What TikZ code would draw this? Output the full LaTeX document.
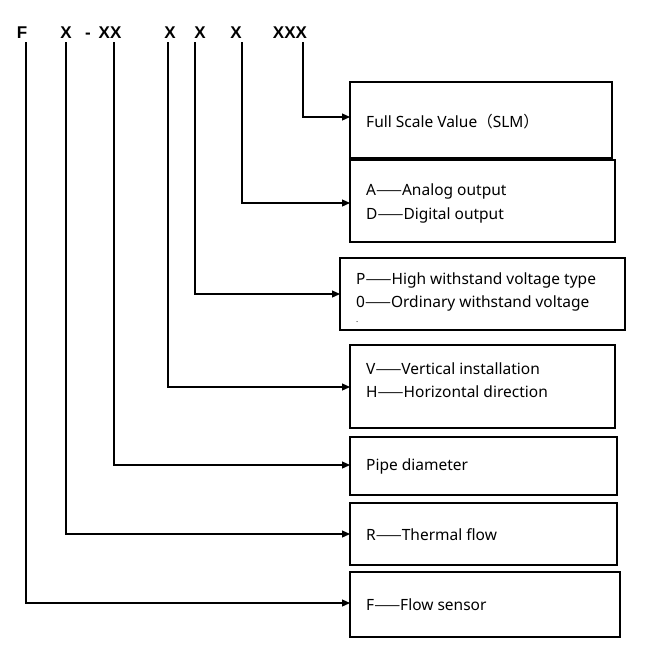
\documentclass[tikz,border=0pt]{standalone}
\usepackage{fontspec}
\setmainfont{Noto Sans}
\newfontfamily\cjk{Noto Sans CJK SC}
\newfontfamily\hdfont{Liberation Sans}
\newcommand{\dd}{{\cjk ——}}
\usetikzlibrary{arrows.meta}
\begin{document}
\begin{tikzpicture}[x=1pt,y=-1pt,
  box/.style={draw,line width=1.3pt},
  lab/.style={anchor=west,font=\fontsize{15.5}{18}\selectfont,inner sep=0},
  hd/.style={font=\hdfont\fontsize{17}{20}\selectfont\bfseries,inner sep=0,anchor=base},
  con/.style={line width=1.2pt,-{Triangle[length=8pt,width=7pt]}}]
\useasboundingbox (0,0) rectangle (671,659);
\node[hd] (hF) at (22,38) {F};
\node[hd] (hX1) at (66,38) {X};
\node[hd] (hdash) at (88,38) {-};
\node[hd] (hXX) at (110,38) {XX};
\node[hd] (hV) at (170,38) {X};
\node[hd] (hP) at (200,38) {X};
\node[hd] (hA) at (236,38) {X};
\node[hd] (hS) at (290,38) {XXX};
\coordinate (tF) at (26,42);
\coordinate (tR) at (66,42);
\coordinate (tD) at (114,42);
\coordinate (tV) at (168,42);
\coordinate (tP) at (195,42);
\coordinate (tA) at (242,42);
\coordinate (tS) at (303,42);
\draw[box] (350,82) rectangle (612,158);
\node[lab] at (366,122) {Full Scale Value{\cjk （}SLM{\cjk ）}};
\draw[box] (350,160) rectangle (615,242);
\node[lab] at (366,191) {A\dd Analog output};
\node[lab] at (366,215) {D\dd Digital output};
\draw[box] (340,258) rectangle (625,330);
\node[lab] at (356,280) {P\dd High withstand voltage type};
\node[lab] at (356,303) {0\dd Ordinary withstand voltage};
\node[lab,font=\fontsize{8}{8}\selectfont] at (356,322) {.};
\draw[box] (350,345) rectangle (615,428);
\node[lab] at (366,369) {V\dd Vertical installation};
\node[lab] at (366,392) {H\dd Horizontal direction};
\draw[box] (350,437) rectangle (617,495);
\node[lab] at (366,466) {Pipe diameter};
\draw[box] (350,503) rectangle (617,565);
\node[lab] at (366,535) {R\dd Thermal flow};
\draw[box] (350,572) rectangle (620,637);
\node[lab] at (366,605) {F\dd Flow sensor};
\draw[con] (tS) |- (350,117);
\draw[con] (tA) |- (350,203);
\draw[con] (tP) |- (340,294);
\draw[con] (tV) |- (350,387);
\draw[con] (tD) |- (350,465);
\draw[con] (tR) |- (350,534);
\draw[con] (tF) |- (350,603);
\end{tikzpicture}
\end{document}
